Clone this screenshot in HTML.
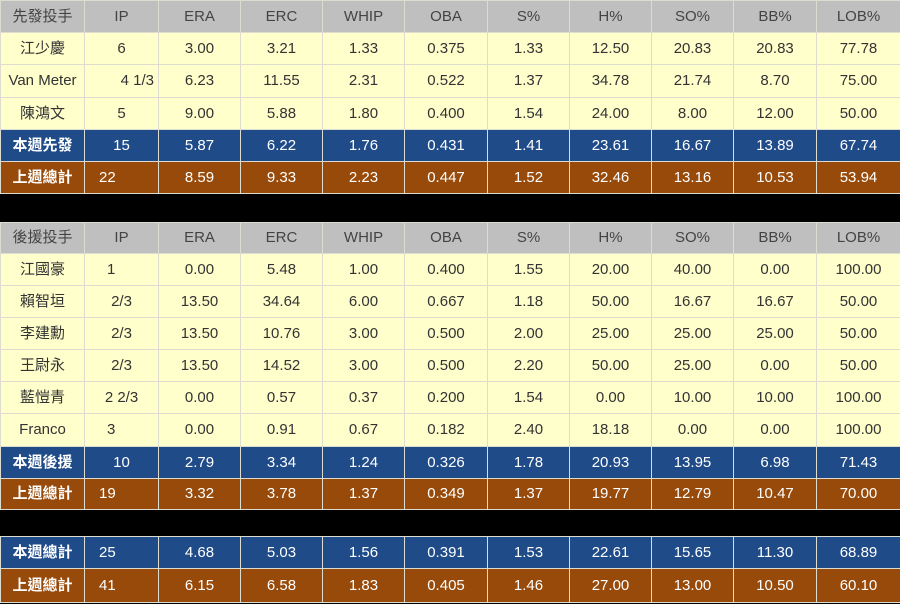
<!DOCTYPE html><html><head><meta charset="utf-8"><style>
body{margin:0;width:900px;height:604px;background:#000;overflow:hidden;font-family:"Liberation Sans","Noto Sans CJK TC",sans-serif;font-size:15px;color:#333}
table{position:absolute;left:0;border-collapse:collapse;table-layout:fixed;width:900px}
td{border:1px solid #dcdcd0;text-align:center;padding:0;white-space:nowrap;overflow:hidden;line-height:18px}
tr.h td{background:#bfbfbf;color:#444}
tr.d td{background:#ffffcc}
tr.b td{background:#1f4b89;color:#fff}
tr.o td{background:#974a0a;color:#fff}
tr.b td:first-child,tr.o td:first-child{font-weight:bold}
td.l{text-align:left;padding-left:22px}
td.l2{text-align:left;padding-left:14px}
</style></head><body>
<table style="top:0">
<colgroup><col style="width:84px"><col style="width:74px"><col style="width:82px"><col style="width:82px"><col style="width:82px"><col style="width:83px"><col style="width:82px"><col style="width:82px"><col style="width:82px"><col style="width:83px"><col style="width:84px"></colgroup>
<tr class="h" style="height:32px"><td>先發投手</td><td>IP</td><td>ERA</td><td>ERC</td><td>WHIP</td><td>OBA</td><td>S%</td><td>H%</td><td>SO%</td><td>BB%</td><td>LOB%</td></tr>
<tr class="d" style="height:32px"><td>江少慶</td><td>6</td><td>3.00</td><td>3.21</td><td>1.33</td><td>0.375</td><td>1.33</td><td>12.50</td><td>20.83</td><td>20.83</td><td>77.78</td></tr>
<tr class="d" style="height:33px"><td>Van Meter</td><td style="text-align:right;padding-right:4px">4 1/3</td><td>6.23</td><td>11.55</td><td>2.31</td><td>0.522</td><td>1.37</td><td>34.78</td><td>21.74</td><td>8.70</td><td>75.00</td></tr>
<tr class="d" style="height:32px"><td>陳鴻文</td><td>5</td><td>9.00</td><td>5.88</td><td>1.80</td><td>0.400</td><td>1.54</td><td>24.00</td><td>8.00</td><td>12.00</td><td>50.00</td></tr>
<tr class="b" style="height:32px"><td>本週先發</td><td>15</td><td>5.87</td><td>6.22</td><td>1.76</td><td>0.431</td><td>1.41</td><td>23.61</td><td>16.67</td><td>13.89</td><td>67.74</td></tr>
<tr class="o" style="height:32px"><td>上週總計</td><td class="l2">22</td><td>8.59</td><td>9.33</td><td>2.23</td><td>0.447</td><td>1.52</td><td>32.46</td><td>13.16</td><td>10.53</td><td>53.94</td></tr>
</table>
<table style="top:222px">
<colgroup><col style="width:84px"><col style="width:74px"><col style="width:82px"><col style="width:82px"><col style="width:82px"><col style="width:83px"><col style="width:82px"><col style="width:82px"><col style="width:82px"><col style="width:83px"><col style="width:84px"></colgroup>
<tr class="h" style="height:31px"><td>後援投手</td><td>IP</td><td>ERA</td><td>ERC</td><td>WHIP</td><td>OBA</td><td>S%</td><td>H%</td><td>SO%</td><td>BB%</td><td>LOB%</td></tr>
<tr class="d" style="height:32px"><td>江國豪</td><td class="l">1</td><td>0.00</td><td>5.48</td><td>1.00</td><td>0.400</td><td>1.55</td><td>20.00</td><td>40.00</td><td>0.00</td><td>100.00</td></tr>
<tr class="d" style="height:32px"><td>賴智垣</td><td>2/3</td><td>13.50</td><td>34.64</td><td>6.00</td><td>0.667</td><td>1.18</td><td>50.00</td><td>16.67</td><td>16.67</td><td>50.00</td></tr>
<tr class="d" style="height:32px"><td>李建勳</td><td>2/3</td><td>13.50</td><td>10.76</td><td>3.00</td><td>0.500</td><td>2.00</td><td>25.00</td><td>25.00</td><td>25.00</td><td>50.00</td></tr>
<tr class="d" style="height:32px"><td>王尉永</td><td>2/3</td><td>13.50</td><td>14.52</td><td>3.00</td><td>0.500</td><td>2.20</td><td>50.00</td><td>25.00</td><td>0.00</td><td>50.00</td></tr>
<tr class="d" style="height:32px"><td>藍愷青</td><td>2 2/3</td><td>0.00</td><td>0.57</td><td>0.37</td><td>0.200</td><td>1.54</td><td>0.00</td><td>10.00</td><td>10.00</td><td>100.00</td></tr>
<tr class="d" style="height:33px"><td>Franco</td><td class="l">3</td><td>0.00</td><td>0.91</td><td>0.67</td><td>0.182</td><td>2.40</td><td>18.18</td><td>0.00</td><td>0.00</td><td>100.00</td></tr>
<tr class="b" style="height:32px"><td>本週後援</td><td>10</td><td>2.79</td><td>3.34</td><td>1.24</td><td>0.326</td><td>1.78</td><td>20.93</td><td>13.95</td><td>6.98</td><td>71.43</td></tr>
<tr class="o" style="height:31px"><td>上週總計</td><td class="l2">19</td><td>3.32</td><td>3.78</td><td>1.37</td><td>0.349</td><td>1.37</td><td>19.77</td><td>12.79</td><td>10.47</td><td>70.00</td></tr>
</table>
<table style="top:536px">
<colgroup><col style="width:84px"><col style="width:74px"><col style="width:82px"><col style="width:82px"><col style="width:82px"><col style="width:83px"><col style="width:82px"><col style="width:82px"><col style="width:82px"><col style="width:83px"><col style="width:84px"></colgroup>
<tr class="b" style="height:32px"><td>本週總計</td><td class="l2">25</td><td>4.68</td><td>5.03</td><td>1.56</td><td>0.391</td><td>1.53</td><td>22.61</td><td>15.65</td><td>11.30</td><td>68.89</td></tr>
<tr class="o" style="height:34px"><td>上週總計</td><td class="l2">41</td><td>6.15</td><td>6.58</td><td>1.83</td><td>0.405</td><td>1.46</td><td>27.00</td><td>13.00</td><td>10.50</td><td>60.10</td></tr>
</table>
</body></html>
